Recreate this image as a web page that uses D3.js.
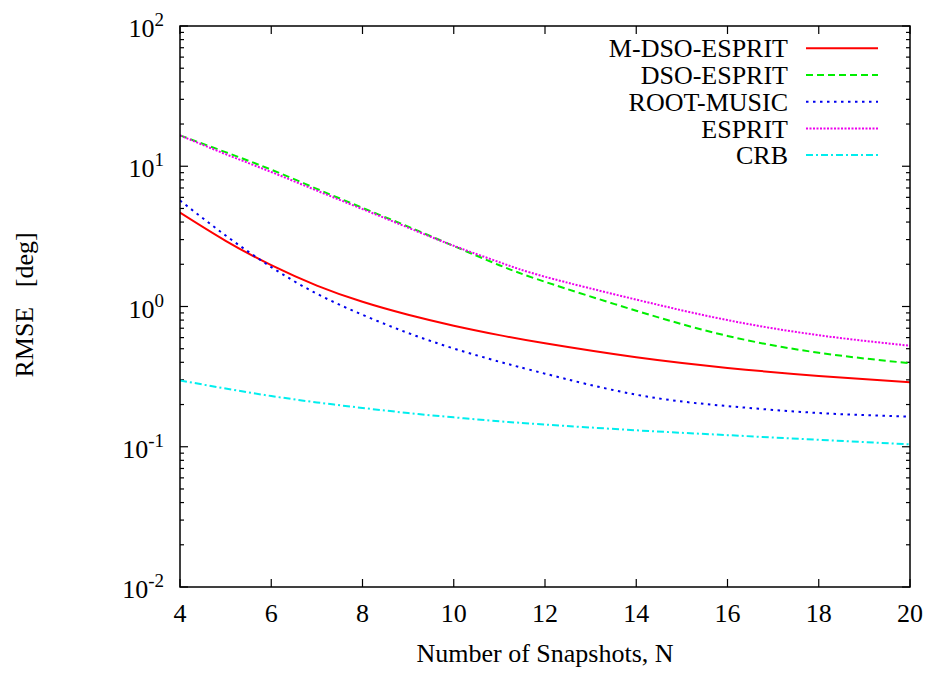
<!DOCTYPE html>
<html>
<head>
<meta charset="utf-8">
<script src="https://cdn.jsdelivr.net/npm/d3@7"></script>
<style>
  body { margin: 0; background: #fff; }
  svg text { font-family: "Liberation Serif", "DejaVu Serif", serif; fill: #000; }
</style>
</head>
<body>
<svg width="932" height="673"></svg>
<script>
// snapshots N
const snapshots = [4, 5, 6, 7, 8, 9, 10, 11, 12, 14, 16, 18, 20];

// RMSE [deg]
const mDsoEsprit = [4.67, 2.94, 1.97, 1.41, 1.08, 0.873, 0.73, 0.625, 0.546, 0.434, 0.365, 0.32, 0.288];
const dsoEsprit  = [16.6, 12.6, 9.45, 6.9, 5.05, 3.71, 2.70, 1.97, 1.50, 0.933, 0.617, 0.468, 0.394];
const rootMusic  = [5.70, 3.21, 1.91, 1.233, 0.873, 0.647, 0.502, 0.404, 0.332, 0.235, 0.195, 0.174, 0.164];
const esprit     = [16.6, 12.2, 9.1, 6.7, 4.95, 3.65, 2.71, 2.07, 1.63, 1.12, 0.80, 0.624, 0.525];
const crb        = [0.297, 0.26, 0.23, 0.207, 0.189, 0.174, 0.162, 0.152, 0.144, 0.131, 0.121, 0.112, 0.104];

const seriesNames = ["M-DSO-ESPRIT", "DSO-ESPRIT", "ROOT-MUSIC", "ESPRIT", "CRB"];
const xTicks = [4, 6, 8, 10, 12, 14, 16, 18, 20];
const yExponents = [-2, -1, 0, 1, 2];

const series = [
  { name: seriesNames[0], values: mDsoEsprit, color: "#ff0000", dash: null },
  { name: seriesNames[1], values: dsoEsprit,  color: "#00ee00", dash: "7,4" },
  { name: seriesNames[2], values: rootMusic,  color: "#0000ee", dash: "2.5,4.5" },
  { name: seriesNames[3], values: esprit,     color: "#ee00ee", dash: "2,1.5" },
  { name: seriesNames[4], values: crb,        color: "#00eeee", dash: "7,3,2,3" }
];

const svg = d3.select("svg");
const plotL = 180, plotR = 910, plotT = 26, plotB = 587;
const fontSize = 26;

const x = d3.scaleLinear().domain([4, 20]).range([plotL, plotR]);
const y = d3.scaleLog().domain([0.01, 100]).range([plotB, plotT]);

// clip for the curves
svg.append("clipPath").attr("id", "clip")
  .append("rect")
  .attr("x", plotL).attr("y", plotT)
  .attr("width", plotR - plotL).attr("height", plotB - plotT);

// ticks on all four sides, pointing inward
const ticks = svg.append("g").attr("stroke", "#000").attr("stroke-width", 1.2);
xTicks.forEach(t => {
  ticks.append("line").attr("x1", x(t)).attr("x2", x(t)).attr("y1", plotB).attr("y2", plotB - 8);
  ticks.append("line").attr("x1", x(t)).attr("x2", x(t)).attr("y1", plotT).attr("y2", plotT + 8);
});
yExponents.forEach(e => {
  const v = Math.pow(10, e);
  ticks.append("line").attr("x1", plotL).attr("x2", plotL + 8).attr("y1", y(v)).attr("y2", y(v));
  ticks.append("line").attr("x1", plotR).attr("x2", plotR - 8).attr("y1", y(v)).attr("y2", y(v));
  if (e < 2) {
    for (let m = 2; m <= 9; m++) {
      const mv = m * v;
      ticks.append("line").attr("x1", plotL).attr("x2", plotL + 4).attr("y1", y(mv)).attr("y2", y(mv));
      ticks.append("line").attr("x1", plotR).attr("x2", plotR - 4).attr("y1", y(mv)).attr("y2", y(mv));
    }
  }
});

// x tick labels
svg.append("g").selectAll("text")
  .data(xTicks)
  .join("text")
  .attr("x", d => x(d))
  .attr("y", 622)
  .attr("text-anchor", "middle")
  .attr("font-size", fontSize)
  .text(d => d);

// y tick labels 10^e
const yl = svg.append("g").selectAll("text")
  .data(yExponents)
  .join("text")
  .attr("x", 164)
  .attr("y", d => y(Math.pow(10, d)) + 11)
  .attr("text-anchor", "end")
  .attr("font-size", fontSize);
yl.append("tspan").text("10");
yl.append("tspan")
  .attr("font-size", 19)
  .attr("dy", -11)
  .text(d => d);

// axis titles
svg.append("text")
  .attr("x", (plotL + plotR) / 2)
  .attr("y", 662)
  .attr("text-anchor", "middle")
  .attr("font-size", fontSize)
  .text("Number of Snapshots, N");

svg.append("text")
  .attr("transform", "translate(33,305) rotate(-90)")
  .attr("text-anchor", "middle")
  .attr("font-size", fontSize)
  .style("white-space", "pre")
  .text("RMSE   [deg]");

// curves
const line = d3.line()
  .x(d => x(d[0]))
  .y(d => y(d[1]))
  .curve(d3.curveNatural);

svg.append("g").attr("clip-path", "url(#clip)")
  .selectAll("path")
  .data(series)
  .join("path")
  .attr("d", s => line(snapshots.map((n, i) => [n, s.values[i]])))
  .attr("fill", "none")
  .attr("stroke", s => s.color)
  .attr("stroke-width", 2)
  .attr("stroke-dasharray", s => s.dash);

// frame
svg.append("rect")
  .attr("x", plotL).attr("y", plotT)
  .attr("width", plotR - plotL).attr("height", plotB - plotT)
  .attr("fill", "none")
  .attr("stroke", "#000")
  .attr("stroke-width", 1.5);

// legend
const legend = svg.append("g").selectAll("g")
  .data(series)
  .join("g")
  .attr("transform", (d, i) => `translate(0, ${48.3 + i * 26.7})`);

legend.append("text")
  .attr("x", 788)
  .attr("y", 0)
  .attr("dy", "0.35em")
  .attr("text-anchor", "end")
  .attr("font-size", fontSize)
  .text(d => d.name);

legend.append("line")
  .attr("x1", 806).attr("x2", 878)
  .attr("y1", 0).attr("y2", 0)
  .attr("stroke", d => d.color)
  .attr("stroke-width", 2)
  .attr("stroke-dasharray", d => d.dash);
</script>
</body>
</html>
